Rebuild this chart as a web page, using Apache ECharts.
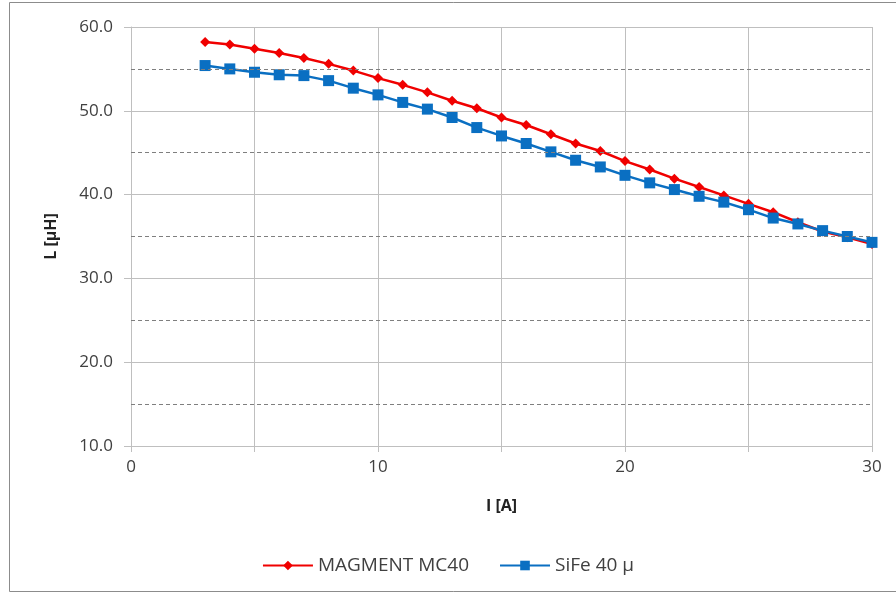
<!DOCTYPE html>
<html>
<head>
<meta charset="utf-8">
<script src="https://cdn.jsdelivr.net/npm/echarts@6/dist/echarts.min.js"></script>
<style>
  html, body { margin: 0; padding: 0; background: #fff; }
  #main { width: 896px; height: 594px; }
</style>
</head>
<body>
<div id="main"></div>
<script>
// current I [A]
var currents = [3, 4, 5, 6, 7, 8, 9, 10, 11, 12, 13, 14, 15, 16, 17, 18, 19, 20, 21, 22, 23, 24, 25, 26, 27, 28, 29, 30];
// inductance L [uH]
var magment = [58.2, 57.9, 57.4, 56.9, 56.3, 55.6, 54.8, 53.9, 53.1, 52.2, 51.2, 50.3, 49.2, 48.3, 47.2, 46.1, 45.2, 44.0, 43.0, 41.9, 40.9, 39.9, 38.9, 37.9, 36.7, 35.6, 34.9, 34.1];
var sife = [55.4, 55.0, 54.6, 54.3, 54.2, 53.6, 52.7, 51.9, 51.0, 50.2, 49.2, 48.0, 47.0, 46.1, 45.1, 44.1, 43.3, 42.3, 41.4, 40.6, 39.8, 39.1, 38.2, 37.2, 36.5, 35.7, 35.0, 34.3];
var dashedLevels = [15, 25, 35, 45, 55];

function pairs(xs, ys) {
  var out = [];
  for (var i = 0; i < xs.length; i++) out.push([xs[i], ys[i]]);
  return out;
}

var chart = echarts.init(document.getElementById('main'));
var txt = '#404040';
var font = '"Open Sans", "DejaVu Sans", sans-serif';

var option = {
  backgroundColor: '#fff',
  animation: false,
  textStyle: { fontFamily: font },
  graphic: [{
    type: 'rect',
    shape: { x: 9.5, y: 2.5, width: 900, height: 589 },
    style: { fill: 'none', stroke: '#8c8c8c', lineWidth: 1 },
    silent: true
  }],
  grid: { left: 131, right: 24, top: 27, bottom: 148 },
  legend: {
    bottom: 14,
    left: 'center',
    itemWidth: 50,
    itemHeight: 12,
    itemGap: 30,
    textStyle: { color: txt, fontSize: 19, fontFamily: font },
    data: ['MAGMENT MC40', 'SiFe 40 µ']
  },
  xAxis: {
    type: 'value',
    min: 0, max: 30, interval: 5,
    name: 'I [A]',
    nameLocation: 'middle',
    nameGap: 52,
    nameTextStyle: { color: '#222', fontSize: 16, fontWeight: 'bold', fontFamily: font },
    axisLine: { show: true, lineStyle: { color: '#bfbfbf', width: 1 } },
    axisTick: { show: true, length: 6, lineStyle: { color: '#bfbfbf' } },
    axisLabel: {
      color: txt, fontSize: 17, margin: 13,
      formatter: function (v) { return v % 10 === 0 ? String(v) : ''; }
    },
    splitLine: { show: true, lineStyle: { color: '#bfbfbf', width: 1 } }
  },
  yAxis: {
    type: 'value',
    min: 10, max: 60, interval: 10,
    name: 'L [µH]',
    nameLocation: 'middle',
    nameGap: 72,
    nameRotate: 90,
    nameTextStyle: { color: '#222', fontSize: 16, fontWeight: 'bold', fontFamily: font },
    axisLine: { show: true, lineStyle: { color: '#bfbfbf', width: 1 } },
    axisTick: { show: true, length: 7, lineStyle: { color: '#bfbfbf' } },
    axisLabel: {
      color: txt, fontSize: 17, margin: 18,
      formatter: function (v) { return v.toFixed(1); }
    },
    splitLine: { show: true, lineStyle: { color: '#bfbfbf', width: 1 } }
  },
  series: [
    {
      name: 'MAGMENT MC40',
      type: 'line',
      data: pairs(currents, magment),
      symbol: 'diamond',
      symbolSize: 10,
      z: 3,
      lineStyle: { color: '#f00000', width: 2.5 },
      itemStyle: { color: '#f00000' },
      markLine: {
        silent: true,
        symbol: 'none',
        label: { show: false },
        lineStyle: { color: '#7f7f7f', type: [4, 3], width: 1 },
        data: dashedLevels.map(function (v) { return { yAxis: v }; })
      }
    },
    {
      name: 'SiFe 40 µ',
      type: 'line',
      data: pairs(currents, sife),
      symbol: 'rect',
      symbolSize: 11,
      z: 4,
      lineStyle: { color: '#0a6fc2', width: 2.5 },
      itemStyle: { color: '#0a6fc2' }
    }
  ]
};

chart.setOption(option);
</script>
</body>
</html>
